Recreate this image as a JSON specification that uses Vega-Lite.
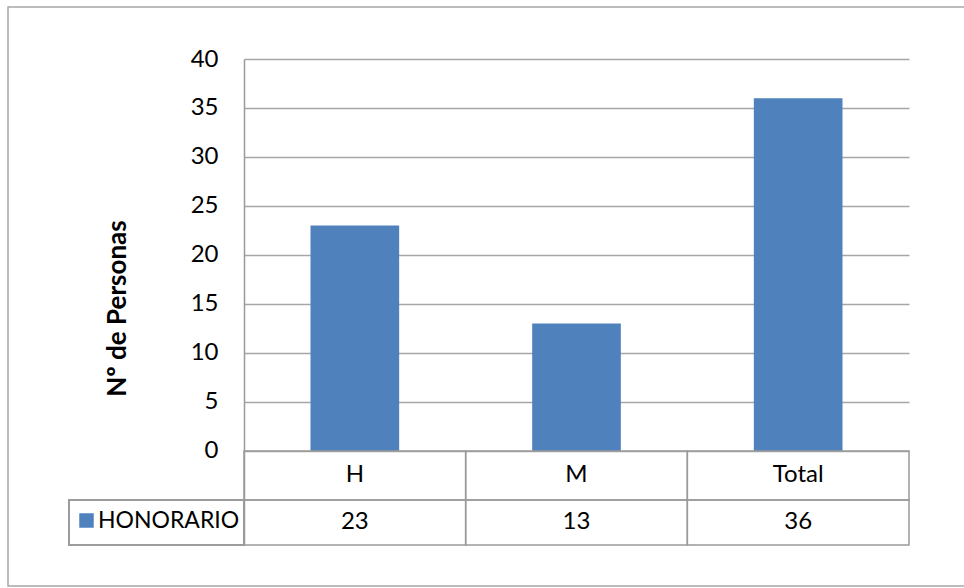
{
  "$schema": "https://vega.github.io/schema/vega-lite/v6.json",
  "width": 960,
  "height": 579,
  "autosize": {"type": "none"},
  "padding": {"left": 8, "top": 7, "right": 0, "bottom": 2},
  "background": "white",
  "config": {
    "font": "Lato",
    "view": {"stroke": "#a6a6a6", "strokeWidth": 1.5},
    "axis": {"labelFont": "Lato", "titleFont": "Lato"}
  },
  "data": {
    "values": [
      {"categoria": "H", "personas": 23, "serie": "HONORARIO"},
      {"categoria": "M", "personas": 13, "serie": "HONORARIO"},
      {"categoria": "Total", "personas": 36, "serie": "HONORARIO"}
    ]
  },
  "resolve": {"scale": {"x": "independent"}},
  "layer": [
    {
      "encoding": {
        "x": {
          "field": "categoria",
          "type": "nominal",
          "sort": null,
          "axis": null,
          "scale": {"range": [236, 901], "paddingInner": 0, "paddingOuter": 0}
        }
      },
      "layer": [
        {
          "mark": {"type": "bar", "width": {"band": 0.4}, "color": "#4F81BD"},
          "encoding": {
            "y": {
              "field": "personas",
              "type": "quantitative",
              "scale": {"domain": [-9.6, 40], "range": [538, 52], "nice": false, "zero": false},
              "axis": {
                "title": "Nº de Personas",
                "titleFontSize": 26,
                "titleFontWeight": "bold",
                "titleColor": "#000000",
                "titlePadding": 60,
                "titleY": 301,
                "values": [0, 5, 10, 15, 20, 25, 30, 35, 40],
                "offset": -236,
                "ticks": false,
                "labelPadding": 26,
                "labelFontSize": 24,
                "labelColor": "#000000",
                "domainColor": "#9a9a9a",
                "domainWidth": 1.5,
                "gridColor": "#a6a6a6",
                "gridWidth": 1.5
              }
            },
            "color": {
              "field": "serie",
              "type": "nominal",
              "scale": {"range": ["#4F81BD"]},
              "legend": {
                "title": null,
                "orient": "none",
                "legendX": 67,
                "legendY": 502,
                "padding": 0,
                "symbolType": "square",
                "symbolSize": 210,
                "symbolStrokeWidth": 0,
                "labelFontSize": 23,
                "labelFont": "Lato",
                "labelColor": "#000000",
                "labelOffset": 0
              }
            }
          }
        },
        {
          "mark": {"type": "rect", "fill": "transparent", "stroke": "#9a9a9a", "strokeWidth": 1.5},
          "encoding": {"y": {"datum": 0}, "y2": {"datum": -5}}
        },
        {
          "mark": {"type": "rect", "fill": "transparent", "stroke": "#9a9a9a", "strokeWidth": 1.5},
          "encoding": {"y": {"datum": -5}, "y2": {"datum": -9.6}}
        },
        {
          "mark": {"type": "text", "fontSize": 24, "font": "Lato", "color": "#000000", "baseline": "middle"},
          "encoding": {"y": {"datum": -2.5}, "text": {"field": "categoria"}}
        },
        {
          "mark": {"type": "text", "fontSize": 24, "font": "Lato", "color": "#000000", "baseline": "middle"},
          "encoding": {"y": {"datum": -7.3}, "text": {"field": "personas", "type": "quantitative"}}
        }
      ]
    },
    {
      "description": "Legend-key cell of the data table, left of the first category column",
      "mark": {"type": "rect", "fill": "transparent", "stroke": "#9a9a9a", "strokeWidth": 1.5},
      "encoding": {
        "x": {"datum": 0, "type": "quantitative", "axis": null, "scale": {"domain": [0, 1], "range": [61, 236]}},
        "x2": {"datum": 1},
        "y": {"datum": -5},
        "y2": {"datum": -9.6}
      }
    }
  ]
}
